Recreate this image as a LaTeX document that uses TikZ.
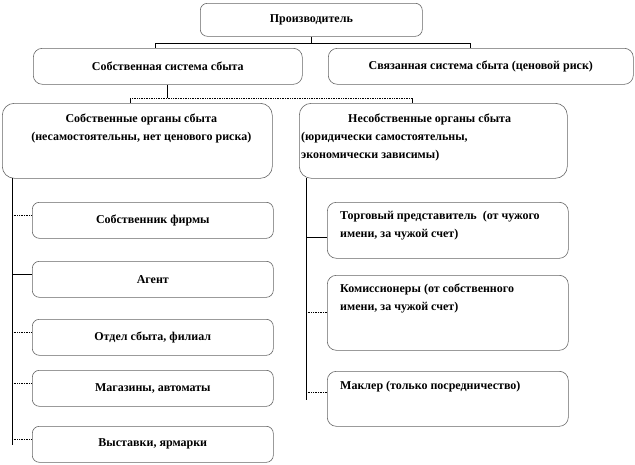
\documentclass[tikz,border=0pt]{standalone}
\usepackage{fontspec}
\setmainfont{Liberation Serif}
\usetikzlibrary{positioning}

\begin{document}
\begin{tikzpicture}[x=1pt,y=-1pt,
    font=\fontsize{12}{18}\selectfont\bfseries,
    blk/.style={draw=black!60, line width=0.6pt, rounded corners=7pt,
      inner sep=0pt, anchor=north west},
    bigblk/.style={blk, rounded corners=12pt},
    txt/.style={inner sep=0pt, anchor=north},
    lnk/.style={line width=0.7pt},
    dlnk/.style={line width=0.7pt, densely dotted}]

    % рамка рисунка
    \useasboundingbox (0,0) rectangle (635,464);

    % 1. Производитель и два вида систем сбыта
    \node[blk, minimum width=222pt, minimum height=33pt] (prod) at (200,3) {Производитель};
    \node[blk, rounded corners=9pt, minimum width=269pt, minimum height=36pt] (own) at (33,48)
        {Собственная система сбыта};
    \node[blk, rounded corners=9pt, minimum width=305pt, minimum height=36pt] (rel) at (328,48)
        {Связанная система сбыта (ценовой риск)};

    % 2. Органы сбыта
    \node[bigblk, minimum width=270pt, minimum height=75pt] (orgO) at (2,103) {};
    \node[txt, align=center] (orgOt) at ([xshift=4pt,yshift=-11pt]orgO.north)
        {Собственные органы сбыта\\(несамостоятельны, нет ценового риска)};
    \node[bigblk, minimum width=268pt, minimum height=75pt] (orgN) at (299,103) {};
    \node[txt, anchor=north west, align=left] (orgNt) at ([xshift=2pt,yshift=-11pt]orgN.north west)
        {\hspace*{47pt}Несобственные органы сбыта\\(юридически самостоятельны,\\экономически зависимы)};

    % 3. Собственные органы (левая колонка)
    \node[blk, minimum width=241pt, minimum height=36pt] (s1) at (32,202) {Собственник фирмы};
    \node[blk, minimum width=241pt, minimum height=36pt] (s2) at (32,261) {Агент};
    \node[blk, minimum width=241pt, minimum height=36pt] (s3) at (32,319) {Отдел сбыта, филиал};
    \node[blk, minimum width=241pt, minimum height=36pt] (s4) at (32,370) {Магазины, автоматы};
    \node[blk, minimum width=241pt, minimum height=36pt] (s5) at (32,426) {Выставки, ярмарки};

    % 4. Несобственные органы (правая колонка)
    \node[blk, rounded corners=9pt, minimum width=241pt, minimum height=56pt] (n1) at (327,202) {};
    \node[txt, anchor=north west, align=left] (n1t) at ([xshift=13pt,yshift=-9pt]n1.north west)
        {Торговый представитель\ \ (от чужого\\имени, за чужой счет)};
    \node[blk, rounded corners=9pt, minimum width=241pt, minimum height=75pt] (n2) at (327,275) {};
    \node[txt, anchor=north west, align=left] (n2t) at ([xshift=13pt,yshift=-9pt]n2.north west)
        {Комиссионеры (от собственного\\имени, за чужой счет)};
    \node[blk, rounded corners=9pt, minimum width=241pt, minimum height=55pt] (n3) at (327,371) {};
    \node[txt, anchor=north west, align=left] (n3t) at ([xshift=13pt,yshift=-10pt]n3.north west)
        {Маклер (только посредничество)};

    % 5. Связи
    \draw[lnk] (prod.south) -- (prod.south |- 0,43);
    \draw[lnk] ([xshift=-12pt]own.north) -- ++(0,-5) -| ([xshift=-10pt]rel.north);

    \coordinate (j2) at (own.south |- 0,98);
    \draw[lnk] (own.south) -- (j2);
    \draw[dlnk] ([xshift=-7pt]orgO.north |- j2) -- ([xshift=-21pt]orgN.north |- j2);
    \draw[lnk] ([xshift=-7pt]orgO.north |- j2) -- ([xshift=-7pt]orgO.north);
    \draw[lnk] ([xshift=-21pt]orgN.north |- j2) -- ([xshift=-21pt]orgN.north);

    % стволы колонок
    \coordinate (tL) at (12,178);
    \coordinate (tR) at (306,178);
    \draw[lnk] (tL) -- (12,445);
    \draw[lnk] (tR) -- (306,400);

    % ответвления слева
    \foreach \b/\st in {s1/dlnk, s2/lnk, s3/dlnk, s4/dlnk, s5/dlnk} {
        \coordinate (e) at ([yshift=5pt]\b.west);
        \draw[\st] (tL |- e) -- (e);
    }
    % ответвления справа
    \foreach \b/\dy/\st in {n1/-7/lnk, n2/0/dlnk, n3/6/dlnk} {
        \coordinate (e) at ([yshift=\dy pt]\b.west);
        \draw[\st] (tR |- e) -- (e);
    }

\end{tikzpicture}
\end{document}
